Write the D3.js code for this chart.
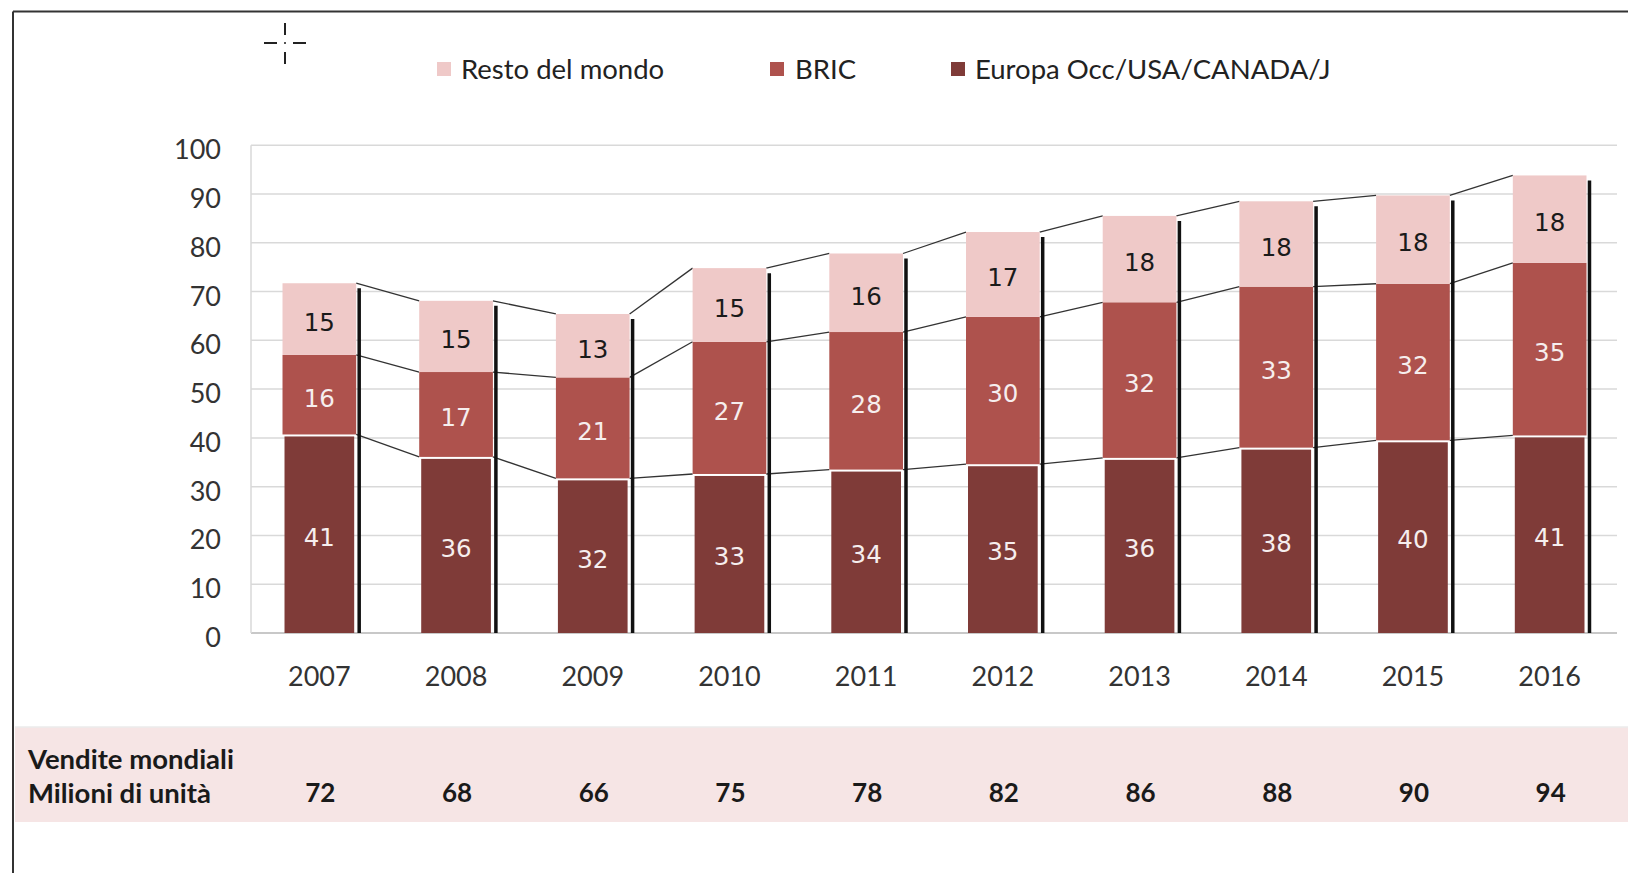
<!DOCTYPE html>
<html>
<head>
<meta charset="utf-8">
<script src="https://cdn.jsdelivr.net/npm/d3@7"></script>
<style>
  html, body { margin: 0; padding: 0; background: #fff; }
  svg { display: block; }
</style>
</head>
<body>
<svg id="chart" width="1628" height="873"></svg>
<script>
const years = ["2007","2008","2009","2010","2011","2012","2013","2014","2015","2016"];
const europa = [40.7,36.1,31.7,32.6,33.5,34.6,35.9,38.0,39.5,40.5];
const bric = [16.3,17.4,20.7,27.1,28.2,30.2,31.9,33.0,32.1,35.4];
const resto = [14.7,14.6,13.0,15.1,16.1,17.4,17.7,17.5,18.1,17.9];
const totals = [72,68,66,75,78,82,86,88,90,94];
const yTicks = [0,10,20,30,40,50,60,70,80,90,100];
const seriesNames = ["Europa Occ/USA/CANADA/J","BRIC","Resto del mondo"];
const seriesKeys = ["europa","bric","resto"];
const seriesColors = ["#7f3b38","#ae524d","#efc9c8"];
const labelColors = ["#f6eeee","#f6eeee","#1a1a1a"];
const tableLabel = ["Vendite mondiali","Milioni di unità"];

const svg = d3.select("#chart");
const W = 1628, H = 873;

const rows = years.map((y,i)=>({year:y, europa:europa[i], bric:bric[i], resto:resto[i]}));
const stack = d3.stack().keys(seriesKeys)(rows);

const x = d3.scaleBand().domain(years).range([251, 1618]).paddingInner(0.461).paddingOuter(0.2305);
const y = d3.scaleLinear().domain([0,100]).range([633, 145.2]);
const bw = x.bandwidth();

// frame
svg.append("line").attr("x1",13).attr("x2",W).attr("y1",11.5).attr("y2",11.5).attr("stroke","#333").attr("stroke-width",2);
svg.append("line").attr("x1",13).attr("x2",13).attr("y1",11.5).attr("y2",H).attr("stroke","#333").attr("stroke-width",2);

// crosshair artifact
const ch = svg.append("g").attr("stroke","#222").attr("stroke-width",2);
ch.append("line").attr("x1",285).attr("x2",285).attr("y1",23).attr("y2",35);
ch.append("line").attr("x1",285).attr("x2",285).attr("y1",52).attr("y2",64);
ch.append("line").attr("x1",264).attr("x2",277).attr("y1",43).attr("y2",43);
ch.append("line").attr("x1",293).attr("x2",306).attr("y1",43).attr("y2",43);
ch.append("rect").attr("x",284).attr("y",42).attr("width",2).attr("height",2).attr("fill","#555").attr("stroke","none");

// legend
const legendItems = [
  {name: seriesNames[2], color: seriesColors[2], sx: 437, tx: 461},
  {name: seriesNames[1], color: seriesColors[1], sx: 770, tx: 795},
  {name: seriesNames[0], color: seriesColors[0], sx: 951, tx: 975}
];
const lg = svg.append("g");
legendItems.forEach(d=>{
  lg.append("rect").attr("x",d.sx).attr("y",62).attr("width",14).attr("height",14).attr("fill",d.color);
  lg.append("text").attr("x",d.tx).attr("y",69).attr("dy","0.35em")
    .attr("font-family","Lato").attr("font-size",27.5).attr("fill","#222").text(d.name);
});

// gridlines
const grid = svg.append("g");
grid.selectAll("line").data(yTicks).join("line")
  .attr("x1",251).attr("x2",1617)
  .attr("y1",d=>y(d)).attr("y2",d=>y(d))
  .attr("stroke",d=>d===0?"#c8c8c8":"#d9d9d9").attr("stroke-width",d=>d===0?2:1.5);
svg.append("line").attr("x1",251).attr("x2",251).attr("y1",y(100)).attr("y2",y(0))
  .attr("stroke","#d9d9d9").attr("stroke-width",1.5);

// y axis labels
const yAxis = d3.axisLeft(y).tickValues(yTicks).tickSize(0).tickPadding(0);
const yg = svg.append("g").attr("transform","translate(221,0)").call(yAxis);
yg.select(".domain").remove();
yg.selectAll("text").attr("font-family","Lato").attr("font-size",27).attr("fill","#333").attr("dy","0.5em");

// x axis labels
const xAxis = d3.axisBottom(x).tickSize(0).tickPadding(0);
const xg = svg.append("g").attr("transform","translate(0,677)").call(xAxis);
xg.select(".domain").remove();
xg.selectAll("text").attr("font-family","Lato").attr("font-size",27).attr("fill","#333").attr("dy","0.35em");

// series lines
const sl = svg.append("g").attr("stroke","#333").attr("stroke-width",1.3).attr("fill","none");
stack.forEach(layer=>{
  for(let i=0;i<layer.length-1;i++){
    sl.append("line")
      .attr("x1",x(years[i])+bw).attr("y1",y(layer[i][1]))
      .attr("x2",x(years[i+1])).attr("y2",y(layer[i+1][1]));
  }
});

// bars
const bars = svg.append("g");
stack.forEach((layer,si)=>{
  bars.append("g").selectAll("rect").data(layer).join("rect")
    .attr("x",d=>x(d.data.year) + (si===0?2:0))
    .attr("width",bw - (si===0?4:0))
    .attr("y",d=>y(d[1]) + (si===0?2:0))
    .attr("height",d=>y(d[0]) - y(d[1]) - (si===0?2:0))
    .attr("fill",seriesColors[si]);
});

// black shadow lines at right of bars
svg.append("g").selectAll("line").data(stack[2]).join("line")
  .attr("x1",d=>x(d.data.year)+bw+3).attr("x2",d=>x(d.data.year)+bw+3)
  .attr("y1",d=>y(d[1])+5).attr("y2",y(0))
  .attr("stroke","#111").attr("stroke-width",3.5);

// segment labels
stack.forEach((layer,si)=>{
  const key = seriesKeys[si];
  svg.append("g").selectAll("text").data(layer).join("text")
    .attr("x",d=>x(d.data.year)+bw/2)
    .attr("y",d=>(y(d[0])+y(d[1]))/2 + 3)
    .attr("dy","0.36em")
    .attr("text-anchor","middle")
    .attr("font-family","DejaVu Sans").attr("font-size",24.5)
    .attr("fill",labelColors[si])
    .text(d=>Math.round(d.data[key]));
});

// table band
svg.append("rect").attr("x",15).attr("y",727).attr("width",W-15).attr("height",95).attr("fill","#f6e5e5");
svg.append("line").attr("x1",15).attr("x2",W).attr("y1",727).attr("y2",727).attr("stroke","#ebebeb").attr("stroke-width",1.5);
svg.append("text").attr("x",28).attr("y",759).attr("dy","0.35em")
  .attr("font-family","Lato").attr("font-weight","bold").attr("font-size",27.5).attr("fill","#1a1a1a").text(tableLabel[0]);
svg.append("text").attr("x",28).attr("y",793).attr("dy","0.35em")
  .attr("font-family","Lato").attr("font-weight","bold").attr("font-size",27.5).attr("fill","#1a1a1a").text(tableLabel[1]);
svg.append("g").selectAll("text").data(totals).join("text")
  .attr("x",(d,i)=>x(years[i])+bw/2 + 1).attr("y",793).attr("dy","0.35em")
  .attr("text-anchor","middle")
  .attr("font-family","Lato").attr("font-weight","bold").attr("font-size",26).attr("fill","#1a1a1a")
  .text(d=>d);
</script>
</body>
</html>
